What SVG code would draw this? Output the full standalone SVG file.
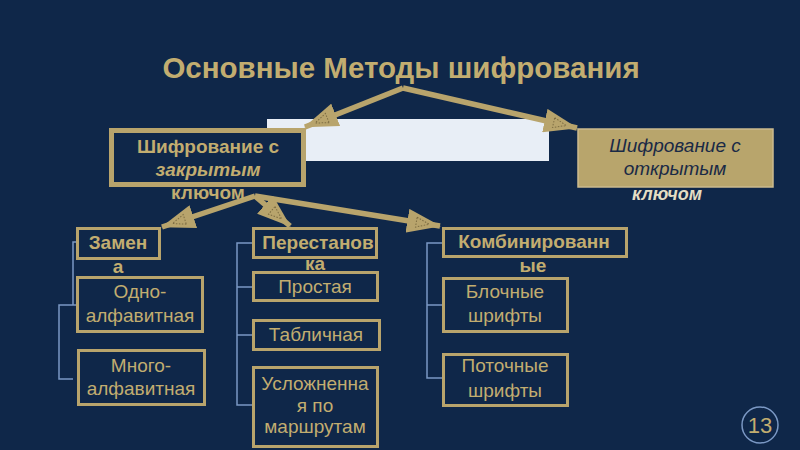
<svg xmlns="http://www.w3.org/2000/svg" width="800" height="450" viewBox="0 0 800 450">
<defs>
<style>
.bg{fill:#0f2749}
.box{fill:#0f2749;stroke:#b8a46c;stroke-width:3}
.bigbox{fill:#0f2749;stroke:#b8a46c;stroke-width:5}
.t{font-family:"Liberation Sans",Arial,sans-serif;fill:#c2ad70;text-anchor:middle}
.b{font-weight:bold}
.r{font-size:19px}
.arr{stroke:#b8a46c;stroke-width:5.5;fill:none;marker-end:url(#ah)}
.con{stroke:#7b98c4;stroke-width:1.5;fill:none}
</style>
<marker id="ah" viewBox="0 0 34 24" refX="33" refY="12" markerWidth="34" markerHeight="24" markerUnits="userSpaceOnUse" orient="auto">
<polygon points="0,0 34,12 0,24" fill="#b8a46c"/>
<polygon points="9,7 22,12 9,17" fill="none" stroke="#7d6d43" stroke-width="1" stroke-dasharray="1.5,1.5"/>
</marker>
</defs>
<rect class="bg" x="0" y="0" width="800" height="450"/>
<text id="title" class="t b" x="401" y="78" font-size="29.5">Основные Методы шифрования</text>
<rect x="267" y="119" width="282" height="42" fill="#e8eef6"/>
<g id="connectors">
<polyline class="arr" points="403,88 305,127"/>
<polyline class="arr" points="403,88 577,128"/>
<polyline class="arr" points="255,196 162,227"/>
<polyline class="arr" points="255,196 290,226"/>
<polyline class="arr" points="255,196 440,226"/>
<path class="con" d="M76,242 H73 V305 H76 M73,305 H59 V379 H73"/>
<path class="con" d="M252,243 H237 V405 H252 M237,287 H252 M237,335 H252"/>
<path class="con" d="M442,243 H427 V378 H442 M427,305 H442"/>
</g>
<g id="closed">
<rect class="bigbox" x="111.5" y="130.5" width="192" height="54"/>
<text class="t b" font-size="19" x="208" y="153">Шифрование с</text>
<text class="t b" font-size="19" x="208" y="176" font-style="italic">закрытым</text>
<text class="t b" font-size="19" x="208" y="199">ключом</text>
</g>
<g id="open">
<rect x="578" y="129" width="195" height="58" fill="#b8a56c" stroke="#cbbb8e" stroke-width="1.5"/>
<text class="t" font-size="19" font-style="italic" x="675" y="152" style="fill:#1a2a46">Шифрование с</text>
<text class="t" font-size="19" font-style="italic" x="675" y="175" style="fill:#1a2a46">открытым</text>
<text class="t b" font-size="18" font-style="italic" x="667" y="200" style="fill:#e4ddc4">ключом</text>
</g>
<g id="zamena">
<rect class="box" x="77.5" y="228.5" width="82" height="30"/>
<text class="t b" font-size="19" x="118" y="249">Замен</text>
<text class="t b" font-size="19" x="118" y="273">а</text>
</g>
<g id="odno">
<rect class="box" x="77.5" y="277.5" width="125" height="54"/>
<text class="t r" x="140" y="298">Одно-</text>
<text class="t r" x="140" y="322">алфавитная</text>
</g>
<g id="mnogo">
<rect class="box" x="78.5" y="350.5" width="126" height="54"/>
<text class="t r" x="141" y="372">Много-</text>
<text class="t r" x="141" y="395">алфавитная</text>
</g>
<g id="perest">
<rect class="box" x="253.5" y="228.5" width="123" height="29"/>
<text class="t b" font-size="19" x="318" y="249">Перестанов</text>
<text class="t b" font-size="19" x="315" y="270">ка</text>
</g>
<g id="prostaya">
<rect class="box" x="253.5" y="272.5" width="124" height="28"/>
<text class="t r" x="315" y="293">Простая</text>
</g>
<g id="tablich">
<rect class="box" x="253.5" y="320.5" width="126" height="29"/>
<text class="t r" x="316" y="341">Табличная</text>
</g>
<g id="uslozh">
<rect class="box" x="253.5" y="367.5" width="124" height="79"/>
<text class="t r" x="315" y="390">Усложненна</text>
<text class="t r" x="315" y="412">я по</text>
<text class="t r" x="315" y="433">маршрутам</text>
</g>
<g id="kombin">
<rect class="box" x="443.5" y="228.5" width="183" height="28"/>
<text class="t b" font-size="19" x="534" y="248">Комбинированн</text>
<text class="t b" font-size="19" x="533" y="272">ые</text>
</g>
<g id="block">
<rect class="box" x="443.5" y="278.5" width="124" height="53"/>
<text class="t r" x="505" y="298">Блочные</text>
<text class="t r" x="505" y="322">шрифты</text>
</g>
<g id="potok">
<rect class="box" x="443.5" y="354.5" width="124" height="51"/>
<text class="t r" x="505" y="372">Поточные</text>
<text class="t r" x="505" y="397">шрифты</text>
</g>
<g id="page">
<circle cx="760" cy="425" r="18" fill="none" stroke="#7b98c4" stroke-width="1.5"/>
<text class="t" font-size="22" x="760" y="433">13</text>
</g>
</svg>
